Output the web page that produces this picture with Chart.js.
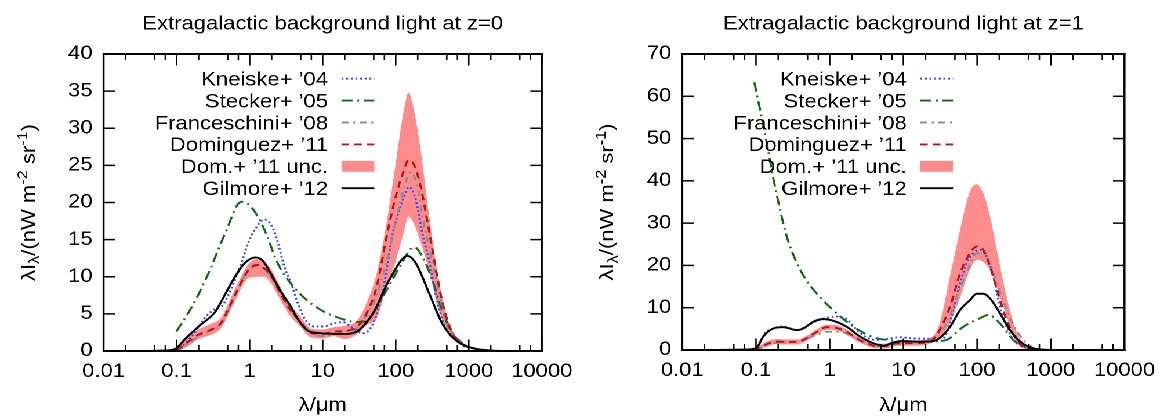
<!DOCTYPE html>
<html>
<head>
<meta charset="utf-8">
<script src="https://cdn.jsdelivr.net/npm/chart.js@4.4.1/dist/chart.umd.min.js"></script>
<style>
  html, body { margin: 0; padding: 0; background: #fff; overflow: hidden; }
  #stage { position: absolute; left: 0; top: 0; width: 1006px; height: 417px;
           transform: scaleX(1.16); transform-origin: 0 0; }
  #stage canvas { position: absolute; top: 0; }
</style>
</head>
<body>
<div id="stage">
  <canvas id="ebl0" style="left:0px"></canvas>
  <canvas id="ebl1" style="left:503px"></canvas>
</div>
<script>
// ---------------- data ----------------
const xTickValues = [0.01, 0.1, 1, 10, 100, 1000, 10000];
const xTickLabels = ['0.01', '0.1', '1', '10', '100', '1000', '10000'];
const xMinorSteps = [2, 5, 7];

// z = 0
const z0KneiskeLam = [0.1, 0.13, 0.18, 0.25, 0.34, 0.42, 0.51, 0.63, 0.77, 0.95, 1.17, 1.6, 1.96, 2.3, 3.0, 3.7, 4.5, 5.8, 7.6, 10.4, 14, 19, 24, 36, 49, 67, 91, 125, 153, 189, 232, 286, 351, 433, 532, 655, 900];
const z0Kneiske    = [0, 1.0, 2.6, 4.6, 5.7, 6.1, 7.5, 9.6, 11.8, 14.5, 16.3, 17.7, 17.0, 15.4, 11.3, 9.1, 6.6, 4.2, 3.3, 3.3, 3.7, 3.9, 3.3, 2.4, 3.7, 8.2, 15.8, 20.3, 22.1, 20.3, 15.8, 12.2, 7.8, 4.2, 2.4, 1.5, 0.5];

const z0SteckerLam = [0.099, 0.163, 0.274, 0.46, 0.77, 1.05, 1.6, 2.42, 3.66, 6.15, 10.4, 17.4, 29, 40, 49, 75, 113, 179, 232, 316, 433, 590, 725, 1000];
const z0Stecker    = [2.6, 6.0, 10.5, 15.8, 20.1, 19.4, 16.3, 11.8, 9.1, 6.8, 5.3, 4.4, 3.9, 4.0, 5.1, 8.2, 11.3, 14.0, 12.7, 9.6, 5.5, 2.4, 1.5, 0.4];

const z0FrancLam = [0.1, 0.13, 0.2, 0.3, 0.4, 0.6, 0.8, 1.0, 1.3, 1.6, 2.0, 2.5, 3.5, 5, 7, 10, 14, 20, 30, 40, 55, 75, 100, 130, 160, 200, 232, 286, 351, 433, 532, 655, 800];
const z0Franc    = [0, 0.6, 2.0, 2.8, 3.5, 7.0, 9.6, 11.0, 11.5, 11.0, 10.0, 8.3, 5.8, 3.8, 2.4, 2.0, 2.2, 2.6, 3.2, 4.8, 7.5, 12.0, 17.5, 22.0, 24.1, 22.0, 18.1, 14.0, 10.0, 6.0, 3.3, 2.0, 1.0];

const z0DomLam   = [0.1, 0.13, 0.2, 0.3, 0.4, 0.6, 0.8, 1.0, 1.3, 1.6, 2.0, 2.5, 3.5, 5, 7, 10, 14, 20, 30, 40, 55, 75, 100, 125, 150, 180, 220, 280, 350, 450, 600, 800, 1000, 1500];
const z0Dom      = [0.1, 0.9, 2.2, 2.9, 3.7, 7.1, 9.6, 11.1, 11.6, 11.1, 10.0, 8.2, 5.7, 3.9, 2.4, 2.3, 2.6, 2.7, 3.3, 5.1, 8.7, 15.4, 20.8, 23.9, 25.7, 25.0, 22.1, 16.7, 11.3, 6.0, 2.4, 1.0, 0.6, 0.1];
const z0DomHigh  = [0.3, 1.5, 2.9, 3.7, 4.4, 7.9, 10.4, 11.9, 12.4, 12.0, 10.9, 9.1, 6.4, 4.6, 3.0, 2.9, 3.2, 3.4, 4.2, 6.5, 10.5, 17.3, 25.3, 31.6, 34.8, 32.2, 27.0, 19.0, 12.3, 6.5, 2.6, 1.1, 0.7, 0.1];
const z0DomLow   = [0, 0.4, 1.6, 2.2, 3.0, 6.3, 8.8, 9.9, 10.0, 10.0, 9.0, 7.3, 4.9, 3.2, 1.8, 1.7, 2.0, 1.6, 2.3, 3.5, 4.4, 8.6, 12.1, 15.5, 18.1, 17.0, 14.6, 11.2, 7.2, 3.8, 2.1, 0.9, 0.5, 0.05];

const z0GilmoreLam = [0.03, 0.06, 0.09, 0.1, 0.13, 0.2, 0.34, 0.4, 0.63, 0.85, 1.19, 1.5, 1.96, 2.6, 3.66, 4.5, 6.15, 9.3, 19.3, 29, 49, 82, 145, 189, 286, 433, 655, 1100, 1845, 3000];
const z0Gilmore    = [0, 0.05, 0.2, 0.4, 1.6, 3.3, 5.3, 6.5, 10.0, 11.8, 12.6, 12.2, 10.4, 8.2, 6.0, 4.4, 2.8, 2.4, 2.3, 2.6, 5.1, 9.6, 12.8, 11.8, 7.8, 3.7, 1.5, 0.4, 0.1, 0];

// z = 1
const z1KneiskeLam = [0.01, 0.05, 0.1, 0.132, 0.172, 0.234, 0.357, 0.487, 0.67, 0.91, 1.24, 1.7, 2.3, 3.2, 4.3, 5.9, 9, 15, 25, 31, 38.6, 47.5, 59, 72, 89, 109, 135, 166, 204, 252, 309, 424, 700];
const z1Kneiske    = [0, 0.05, 0.4, 4.0, 5.1, 5.6, 4.7, 5.6, 6.9, 7.6, 7.9, 7.3, 4.9, 2.9, 2.4, 2.6, 3.0, 2.7, 2.6, 2.0, 4.0, 9.5, 15.8, 20.5, 22.9, 23.7, 22.1, 17.4, 10.3, 5.5, 2.4, 0.8, 0.1];

const z1SteckerLam = [0.095, 0.113, 0.14, 0.17, 0.21, 0.26, 0.36, 0.49, 0.74, 1.1, 1.7, 2.6, 3.9, 5.9, 13.6, 23, 38.6, 65, 109, 142, 204, 309, 471, 700];
const z1Stecker    = [63.3, 57, 49, 41, 33.5, 27, 20.5, 16.3, 12.5, 9.5, 6.7, 4.5, 3.0, 2.4, 2.0, 2.0, 2.4, 5.5, 7.5, 8.3, 6.3, 2.4, 0.4, 0];

const z1FrancLam = [0.1, 0.172, 0.28, 0.44, 0.67, 0.91, 1.4, 2.0, 3.2, 4.8, 7.3, 11, 18, 28.5, 38.6, 53, 72, 99, 121, 150, 185, 252, 309, 424, 580];
const z1Franc    = [0, 1.6, 1.8, 2.4, 3.6, 4.3, 4.3, 3.2, 1.6, 0.9, 1.2, 1.6, 2.0, 3.4, 6.3, 12.6, 18.2, 22.9, 22.9, 20.5, 15.8, 9.5, 6.0, 2.4, 0.4];

const z1DomLam  = [0.09, 0.1, 0.14, 0.19, 0.26, 0.36, 0.49, 0.67, 0.91, 1.24, 1.7, 2.3, 3.2, 4.3, 5.9, 8, 13.6, 23, 31, 43, 59, 80, 99, 121, 150, 185, 252, 344, 471, 700];
const z1Dom     = [0, 0.2, 1.4, 2.0, 1.9, 1.9, 2.8, 4.3, 5.4, 5.2, 4.3, 2.8, 1.6, 0.9, 0.9, 1.6, 1.6, 2.0, 4.7, 10.3, 18.2, 22.9, 24.5, 23.7, 19.7, 14.4, 7.1, 2.4, 0.4, 0.05];
const z1DomHigh = [0, 0.5, 2.0, 2.6, 2.5, 2.5, 3.4, 4.9, 6.0, 5.8, 4.9, 3.4, 2.2, 1.5, 1.5, 2.2, 2.2, 2.8, 6.2, 17.5, 28.5, 37.5, 39.2, 37.1, 31.6, 23.7, 12.5, 4.3, 1.0, 0.1];
const z1DomLow  = [0, 0, 0.8, 1.4, 1.3, 1.3, 2.2, 3.7, 4.8, 4.6, 3.7, 2.2, 1.0, 0.4, 0.4, 1.0, 1.0, 1.5, 2.8, 6.5, 12.5, 19.0, 21.3, 20.8, 18.9, 14.8, 7.9, 1.8, 0.2, 0];

const z1GilmoreLam = [0.03, 0.07, 0.1, 0.126, 0.172, 0.234, 0.357, 0.44, 0.6, 0.82, 1.12, 1.7, 2.58, 3.9, 5.3, 7.3, 10, 15, 23, 31, 43, 59, 80, 99, 121, 150, 204, 280, 382, 580, 1000];
const z1Gilmore    = [0, 0.1, 0.4, 3.2, 5.1, 5.4, 4.7, 5.1, 6.7, 7.3, 6.9, 5.5, 3.2, 1.6, 1.0, 1.8, 2.1, 2.0, 2.0, 2.8, 5.5, 9.5, 11.8, 13.3, 13.3, 12.2, 8.7, 4.7, 2.0, 0.4, 0];

// ---------------- styling ----------------
const FONT = '"Liberation Sans", Arial, Helvetica, sans-serif';
const FS = 19;             // text size
const SX = 1.16;           // horizontal stretch applied to #stage
const MAJOR = 11.5, MINOR = 6;

const pts = (lam, val) => lam.map((l, i) => ({ x: l, y: val[i] }));

function seriesSet(d) {
  const line = (label, data, color, dash, order) => ({
    label, data, borderColor: color, borderDash: dash, borderWidth: 1.9,
    pointRadius: 0, fill: false, cubicInterpolationMode: 'monotone', order
  });
  return [
    line('Kneiske+ \u201904', pts(d.kLam, d.k), '#2f48ff', [1.7, 2.3], 4),
    line('Stecker+ \u201905', pts(d.sLam, d.s), '#0a720a', [9.5, 4, 1.7, 4], 5),
    line('Franceschini+ \u201908', pts(d.fLam, d.f), '#8e8e8e', [6, 4, 1.7, 4], 3),
    line('Dominguez+ \u201911', pts(d.dLam, d.d), '#b81414', [6.5, 4.5], 2),
    { label: 'Dom.+ \u201911 unc.', data: pts(d.dLam, d.dHi), borderWidth: 0, borderColor: 'rgba(0,0,0,0)',
      backgroundColor: 'rgb(255,140,140)', pointRadius: 0, fill: '+1', cubicInterpolationMode: 'monotone', order: 10, legendBox: true },
    { label: '', data: pts(d.dLam, d.dLo), borderWidth: 0, borderColor: 'rgba(0,0,0,0)',
      pointRadius: 0, fill: false, cubicInterpolationMode: 'monotone', order: 10, noLegend: true },
    line('Gilmore+ \u201912', pts(d.gLam, d.g), '#000000', [], 1)
  ];
}

// frame, inward ticks, title, y label and key
const decor = {
  id: 'decor',
  afterDraw(chart, args, o) {
    const { ctx, chartArea: a, scales: { x, y } } = chart;
    ctx.save();
    ctx.fillStyle = '#000';
    const tw = 1.5;
    const vtick = (px, len) => {
      ctx.fillRect(px - tw / 2 / SX, a.bottom - len, tw / SX, len);
      ctx.fillRect(px - tw / 2 / SX, a.top, tw / SX, len);
    };
    xTickValues.forEach((v, i) => {
      vtick(x.getPixelForValue(v), MAJOR);
      if (i < xTickValues.length - 1) xMinorSteps.forEach(m => vtick(x.getPixelForValue(v * m), MINOR));
    });
    y.ticks.forEach(t => {
      const py = y.getPixelForValue(t.value);
      ctx.fillRect(a.left, py - tw / 2, MAJOR / SX, tw);
      ctx.fillRect(a.right - MAJOR / SX, py - tw / 2, MAJOR / SX, tw);
    });
    const bw = 2;
    ctx.fillRect(a.left - bw / 2 / SX, a.top - bw / 2, a.width + bw / SX, bw);
    ctx.fillRect(a.left - bw / 2 / SX, a.bottom - bw / 2, a.width + bw / SX, bw);
    ctx.fillRect(a.left - bw / 2 / SX, a.top - bw / 2, bw / SX, a.height + bw);
    ctx.fillRect(a.right - bw / 2 / SX, a.top - bw / 2, bw / SX, a.height + bw);

    // title
    ctx.font = FS + 'px ' + FONT;
    ctx.textAlign = 'center';
    ctx.textBaseline = 'alphabetic';
    ctx.fillText(o.title, (a.left + a.right) / 2, 29.5);

    // y axis label with sub/superscripts, drawn along the axis
    const parts = [['\u03bbI', 0], ['\u03bb', 1], ['/(nW m', 0], ['-2', -1], [' sr', 0], ['-1', -1], [')', 0]];
    const fontFor = k => (k === 0 ? FS + 'px ' : '14px ') + FONT;
    let total = 0;
    parts.forEach(([t, k]) => { ctx.font = fontFor(k); total += ctx.measureText(t).width; });
    ctx.save();
    ctx.translate(a.left - 59.5, (a.top + a.bottom) / 2);
    ctx.rotate(-Math.PI / 2);
    ctx.scale(SX, 1 / SX);
    ctx.textAlign = 'left';
    let cx = -total / 2;
    parts.forEach(([t, k]) => {
      ctx.font = fontFor(k);
      ctx.fillText(t, cx, k === 1 ? 4.5 : (k === -1 ? -7.5 : 0));
      cx += ctx.measureText(t).width;
    });
    ctx.restore();

    // key
    const rows = chart.data.datasets.filter(d => !d.noLegend);
    ctx.font = FS + 'px ' + FONT;
    ctx.textAlign = 'right';
    rows.forEach((d, i) => {
      const base = 85.5 + i * 21.9;
      const mid = base - 6.8;
      ctx.fillStyle = '#000';
      ctx.fillText(d.label, a.left + 193.5, base);
      const s0 = a.left + 205.1, s1 = a.left + 233.4;
      if (d.legendBox) {
        ctx.fillStyle = d.backgroundColor;
        ctx.fillRect(s0, mid - 5.5, s1 - s0, 11);
      } else {
        ctx.save();
        ctx.strokeStyle = d.borderColor;
        ctx.lineWidth = d.borderWidth;
        ctx.setLineDash(d.borderDash);
        ctx.beginPath(); ctx.moveTo(s0, mid); ctx.lineTo(s1, mid); ctx.stroke();
        ctx.restore();
      }
    });
    ctx.restore();
  }
};

function makeChart(id, d, yMax, yStep, title, yAxisW, padRight, xAxisH) {
  return new Chart(document.getElementById(id), {
    type: 'line',
    data: { datasets: seriesSet(d) },
    plugins: [decor],
    options: {
      responsive: false, animation: false, events: [], devicePixelRatio: 2,
      layout: { padding: { top: 54, right: padRight, bottom: 0, left: 0 } },
      plugins: { legend: { display: false }, tooltip: { enabled: false }, title: { display: false },
                 filler: { drawTime: 'beforeDatasetsDraw' }, decor: { title } },
      scales: {
        x: {
          type: 'logarithmic', min: 0.01, max: 10000,
          afterBuildTicks: s => { s.ticks = xTickValues.map(v => ({ value: v })); },
          afterFit: s => { s.height = xAxisH; },
          grid: { display: false, drawTicks: false }, border: { display: false },
          ticks: { autoSkip: false, maxRotation: 0, padding: 9.5, color: '#000',
                   font: { family: FONT, size: FS },
                   callback: v => xTickLabels[xTickValues.indexOf(v)] },
          title: { display: true, text: '\u03bb/\u03bcm', color: '#000', padding: 0,
                   font: { family: FONT, size: FS, lineHeight: 1.2 } }
        },
        y: {
          type: 'linear', min: 0, max: yMax,
          afterFit: s => { s.width = yAxisW; },
          grid: { display: false, drawTicks: false }, border: { display: false },
          ticks: { stepSize: yStep, padding: 9.5, color: '#000', font: { family: FONT, size: FS } }
        }
      }
    }
  });
}

const z0 = { kLam: z0KneiskeLam, k: z0Kneiske, sLam: z0SteckerLam, s: z0Stecker, fLam: z0FrancLam, f: z0Franc,
             dLam: z0DomLam, d: z0Dom, dHi: z0DomHigh, dLo: z0DomLow, gLam: z0GilmoreLam, g: z0Gilmore };
const z1 = { kLam: z1KneiskeLam, k: z1Kneiske, sLam: z1SteckerLam, s: z1Stecker, fLam: z1FrancLam, f: z1Franc,
             dLam: z1DomLam, d: z1Dom, dHi: z1DomHigh, dLo: z1DomLow, gLam: z1GilmoreLam, g: z1Gilmore };

for (const id of ['ebl0', 'ebl1']) {
  const c = document.getElementById(id);
  c.width = 503; c.height = 417;
}

makeChart('ebl0', z0, 40, 5, 'Extragalactic background light at z=0', 89.3, 31.4, 66);
makeChart('ebl1', z1, 70, 10, 'Extragalactic background light at z=1', 85.2, 36.6, 67);
</script>
</body>
</html>
